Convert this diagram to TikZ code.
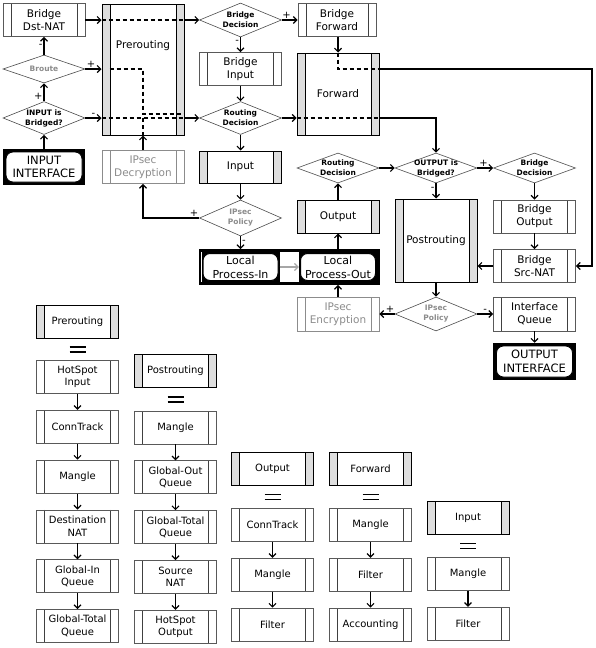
\documentclass[tikz,border=0pt]{standalone}
\usepackage{fontspec}
\setmainfont{DejaVu Sans}
\usetikzlibrary{positioning, shapes, arrows.meta, calc, fit}

\begin{document}
\begin{tikzpicture}[x=1pt, y=-1pt,
    txt/.style={font=\fontsize{10.5}{13}\selectfont, align=center},
    btxt/.style={font=\fontsize{10}{12.5}\selectfont},
    bars/.style 2 args={path picture={
        \fill[#1] (path picture bounding box.north west) rectangle ([xshift=8pt]path picture bounding box.south west);
        \fill[#1] (path picture bounding box.north east) rectangle ([xshift=-8pt]path picture bounding box.south east);
        \draw[#2, line width=0.8pt] ([xshift=8pt]path picture bounding box.north west) -- ([xshift=8pt]path picture bounding box.south west)
          ([xshift=-8pt]path picture bounding box.north east) -- ([xshift=-8pt]path picture bounding box.south east);}},
    proc/.style={rectangle, txt, draw=black!65, line width=0.8pt, fill=white, minimum width=82pt, minimum height=33pt, inner sep=1pt, bars={white}{black!75}},
    ipsec/.style={proc, draw=black!45, text=black!45, bars={white}{black!45}},
    chainbox/.style={proc, draw=black, line width=1pt, bars={black!13}{black}},
    dec/.style={diamond, draw=black!70, line width=0.6pt, fill=white, minimum width=82pt, minimum height=32pt, inner sep=0pt},
    dtxt/.style={font=\fontsize{7.5}{10}\selectfont\bfseries, align=center, inner sep=0pt},
    gdtxt/.style={dtxt, text=black!45},
    iface/.style={rectangle, draw=black, line width=2.5pt, fill=black, minimum width=80pt, minimum height=34pt, inner sep=1pt, align=center, font=\fontsize{11.5}{13.5}\selectfont,
        path picture={\filldraw[fill=white, draw=black, line width=0.8pt, rounded corners=7pt] ([shift={(2pt,-2pt)}]path picture bounding box.north west) rectangle ([shift={(-2pt,2pt)}]path picture bounding box.south east);}},
    lproc/.style={rectangle, fill=black, minimum width=78pt, minimum height=30pt, inner sep=1pt, align=center, font=\fontsize{11}{14}\selectfont,
        path picture={\filldraw[fill=white, draw=black, line width=1pt, rounded corners=7pt] ([shift={(1.5pt,-1.5pt)}]path picture bounding box.north west) rectangle ([shift={(-1.5pt,1.5pt)}]path picture bounding box.south east);}},
    arr/.style={-{Straight Barb[length=3.5pt,width=7pt]}, line width=1.2pt},
    dsh/.style={line width=1.2pt, dash pattern=on 4pt off 3pt},
    pm/.style={font=\fontsize{10}{10}\selectfont, inner sep=1pt},
    eqline/.style={line width=1.5pt}]
\useasboundingbox (0,0) rectangle (596,648);

\node[proc] (bdnat) at (44,20) {Bridge\\Dst-NAT};
\node[dec, minimum height=28pt, label={[gdtxt]center:Broute}] (broute) at (44,69) {};
\node[dec, minimum height=33pt, label={[dtxt]center:INPUT is\\Bridged?}] (inbr) at (44,118) {};
\node[iface] (inif) at (44,167) {INPUT\\INTERFACE};
\node[chainbox, minimum height=131pt, label={[txt, yshift=23.5pt]center:Prerouting}] (pre) at (143,69.5) {};
\node[ipsec] (idec) at (143,167) {IPsec\\Decryption};

\node[dec, minimum height=34pt, label={[dtxt]center:Bridge\\Decision}] (bdec) at (240.5,20) {};
\node[proc, minimum width=78pt] (bfwd) at (337,20) {Bridge\\Forward};
\node[proc] (binp) at (240.5,69) {Bridge\\Input};
\node[dec, minimum height=33pt, label={[dtxt]center:Routing\\Decision}] (rdec) at (240.5,118) {};
\node[chainbox, minimum height=82pt] (fwd) at (338,94) {Forward};
\node[chainbox, minimum height=32pt] (inp) at (240.5,167) {Input};
\node[dec, minimum height=36pt, label={[gdtxt]center:IPsec\\Policy}] (ipol) at (240.5,218) {};
\node[lproc] (lpin) at (240.5,267) {Local\\Process-In};
\node[lproc] (lpout) at (338,267) {Local\\Process-Out};
\node[fit=(lpin)(lpout), draw, line width=2.5pt, inner sep=1.5pt] (lpbox) {};

\node[chainbox] (outp) at (338,216.5) {Output};
\node[dec, minimum height=30pt, label={[dtxt]center:Routing\\Decision}] (rdec2) at (338,168) {};
\node[dec, minimum height=30pt, label={[dtxt]center:OUTPUT is\\Bridged?}] (obr) at (436,168) {};
\node[dec, minimum height=30pt, label={[dtxt]center:Bridge\\Decision}] (bdec2) at (534.5,168) {};
\node[chainbox, minimum height=83pt] (post) at (436,240.5) {Postrouting};
\node[proc] (bout) at (534.5,216.5) {Bridge\\Output};
\node[proc] (bsnat) at (534.5,266) {Bridge\\Src-NAT};
\node[ipsec, minimum height=34pt] (ienc) at (338,314) {IPsec\\Encryption};
\node[dec, minimum height=34pt, label={[gdtxt]center:IPsec\\Policy}] (ipol2) at (436,314) {};
\node[proc, minimum height=34pt] (iq) at (534.5,314) {Interface\\Queue};
\node[iface, minimum height=35pt] (outif) at (534.5,361.5) {OUTPUT\\INTERFACE};
\coordinate (rt) at (592,69);

\draw[arr] (inif) -- (inbr);
\draw[arr] (inbr) -- node[pm, left, pos=0.25] {+} (broute);
\draw[arr] (broute) -- node[pm, left] {-} (bdnat);
\draw[arr] (bdnat.east) -- (bdnat.east -| pre.west);
\draw[arr] (broute.east) -- node[pm, above, pos=0.35] {+} (broute.east -| pre.west);
\draw[arr] (inbr.east) -- node[pm, above] {-} (inbr.east -| pre.west);
\draw[dsh] (bdnat.east -| pre.west) -- (bdnat.east -| pre.east);
\draw[dsh] ([xshift=8pt]broute.east -| pre.west) -| ([yshift=4pt]pre.center |- inbr.east) -- ([yshift=4pt]inbr.east -| pre.east);
\draw[dsh] (inbr.east -| pre.west) -- (inbr.east -| pre.east);
\draw[dsh] (pre.south) -- (pre.center |- inbr.east);
\draw[arr] (bdnat.east -| pre.east) -- (bdec.west);
\draw[arr] (inbr.east -| pre.east) -- (rdec.west);

\draw[arr] (bdec) -- node[pm, above, pos=0.3] {+} (bfwd);
\draw[arr] (bdec) -- node[pm, left, pos=0.3] {-} (binp);
\draw[arr] (binp) -- (rdec);
\draw[arr] (rdec) -- (inp);
\draw[arr] (rdec.east) -- (rdec.east -| fwd.west);
\draw[dsh] (rdec.east -| fwd.west) -- (rdec.east -| fwd.east);
\draw[arr] (rdec.east -| fwd.east) -| (obr.north);
\draw[arr] (bfwd.south -| fwd.north) -- (fwd.north);
\draw[dsh] (fwd.north) -- (fwd.north |- rt) -- (fwd.east |- rt);
\draw[arr] (fwd.east |- rt) -- (rt) |- (bsnat.east);

\draw[arr] (inp) -- (ipol);
\draw[arr] (ipol.west) -- node[pm, above, pos=0.09] {+} (ipol.west -| idec.south) -- (idec.south);
\draw[arr] (idec) -- (pre);
\draw[arr] (ipol) -- node[pm, right, pos=0.45] {-} (ipol |- lpbox.north);
\draw[arr, black!35] (lpin) -- (lpout);
\draw[arr] (ienc) -- (ienc |- lpbox.south);
\draw[arr] (lpout |- lpbox.north) -- (outp);
\draw[arr] (outp) -- (rdec2);
\draw[arr] (rdec2) -- (obr);
\draw[arr] (obr) -- node[pm, above, pos=0.4] {+} (bdec2);
\draw[arr] (obr) -- node[pm, left, pos=0.4] {-} (post);
\draw[arr] (bdec2) -- (bout);
\draw[arr] (bout) -- (bsnat);
\draw[arr] (bsnat.west) -- (bsnat.west -| post.east);
\draw[arr] (post) -- (ipol2);
\draw[arr] (ipol2) -- node[pm, above, pos=0.3] {+} (ienc);
\draw[arr] (ipol2) -- node[pm, above, pos=0.5] {-} (iq);
\draw[arr] (iq) -- (outif);

\node[chainbox, btxt] (cpre) at (77.5,322) {Prerouting};
\node[proc, btxt] (hsin) at (77.5,377) {HotSpot\\Input};
\node[proc, btxt, below=16pt of hsin] (ct1) {ConnTrack};
\node[proc, btxt, below=16pt of ct1] (mg1) {Mangle};
\node[proc, btxt, below=16pt of mg1] (dnat) {Destination\\NAT};
\node[proc, btxt, below=16pt of dnat] (giq) {Global-In\\Queue};
\node[proc, btxt, below=16pt of giq] (gtq1) {Global-Total\\Queue};

\node[chainbox, btxt] (cpost) at (175.5,371) {Postrouting};
\node[proc, btxt] (mg2) at (175.5,427.5) {Mangle};
\node[proc, btxt, below=16pt of mg2] (goq) {Global-Out\\Queue};
\node[proc, btxt, below=16pt of goq] (gtq2) {Global-Total\\Queue};
\node[proc, btxt, below=16pt of gtq2] (snat) {Source\\NAT};
\node[proc, btxt, below=16pt of snat] (hsout) {HotSpot\\Output};

\node[chainbox, btxt] (cout) at (272.5,468.5) {Output};
\node[proc, btxt] (ct3) at (272.5,525) {ConnTrack};
\node[proc, btxt, below=16pt of ct3] (mg3) {Mangle};
\node[proc, btxt, below=16pt of mg3] (flt3) {Filter};

\node[chainbox, btxt] (cfwd) at (370.5,468.5) {Forward};
\node[proc, btxt] (mg4) at (370.5,525) {Mangle};
\node[proc, btxt, below=16pt of mg4] (flt4) {Filter};
\node[proc, btxt, below=16pt of flt4] (acc) {Accounting};

\node[chainbox, btxt] (cinp) at (468,518) {Input};
\node[proc, btxt] (mg5) at (468,574) {Mangle};
\node[proc, btxt, below=16pt of mg5] (flt5) {Filter};

\foreach \a/\b in {hsin/ct1, ct1/mg1, mg1/dnat, dnat/giq, giq/gtq1, mg2/goq, goq/gtq2, gtq2/snat, snat/hsout, ct3/mg3, mg3/flt3, mg4/flt4, flt4/acc, mg5/flt5}
  \draw[arr] (\a) -- (\b);
\foreach \a/\b in {cpre/hsin, cpost/mg2, cout/ct3, cfwd/mg4, cinp/mg5}
  \draw[eqline] ($(\a.south)!0.5!(\b.north)+(-8pt,2.5pt)$) -- ++(16pt,0pt)
    ($(\a.south)!0.5!(\b.north)+(-8pt,-2.5pt)$) -- ++(16pt,0pt);
\end{tikzpicture}
\end{document}
